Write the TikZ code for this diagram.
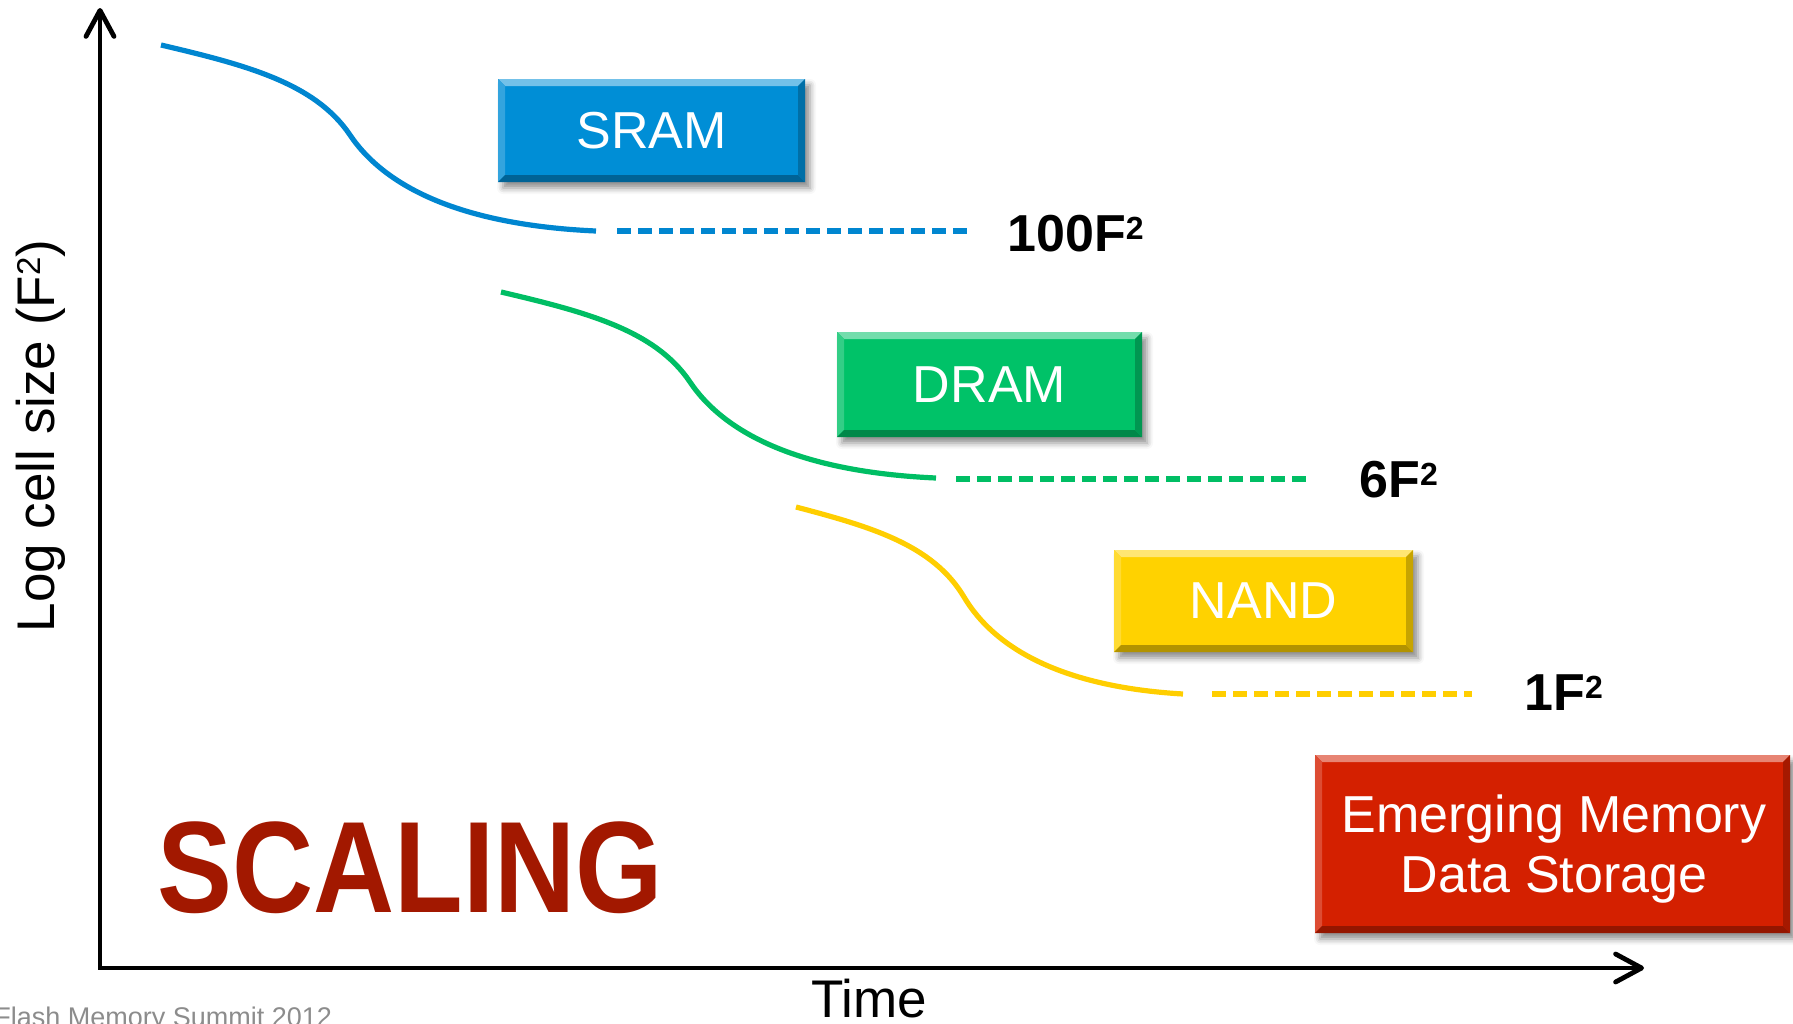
\documentclass[tikz,border=0pt]{standalone}
\usepackage{fontspec}
\setmainfont{Liberation Sans}
\newfontfamily\blockfont{Liberation Sans}[FakeStretch=0.864]
\usetikzlibrary{arrows.meta,shadows.blur}

\definecolor{cblue}{RGB}{0,134,208}
\definecolor{cgreen}{RGB}{0,190,100}
\definecolor{cyellow}{RGB}{255,206,0}
\definecolor{bblue}{RGB}{0,142,214}
\definecolor{bgreen}{RGB}{0,194,104}
\definecolor{byellow}{RGB}{255,210,0}
\definecolor{bred}{RGB}{212,32,0}
\definecolor{scalered}{RGB}{162,24,0}
\definecolor{footgray}{RGB}{140,140,140}

% superscript two for the bold size labels and the axis title
\newcommand\supbold{\raisebox{6pt}{\fontsize{16}{16}\selectfont\bfseries 2}}
\newcommand\supaxis{\raisebox{7pt}{\fontsize{16.5}{16.5}\selectfont 2}}

% bevelled edges drawn inside a box
\newcommand\bevelfill[1]{%
  \path (path picture bounding box.north west) coordinate (bNW)
        (path picture bounding box.north east) coordinate (bNE)
        (path picture bounding box.south east) coordinate (bSE)
        (path picture bounding box.south west) coordinate (bSW);
  \fill[#1!55!white] (bNW) -- (bNE) -- ([shift={(-3.5pt,-3.5pt)}]bNE) -- ([shift={(3.5pt,-3.5pt)}]bNW) -- cycle;
  \fill[#1!80!white] (bNW) -- ([shift={(3.5pt,-3.5pt)}]bNW) -- ([shift={(3.5pt,3.5pt)}]bSW) -- (bSW) -- cycle;
  \fill[#1!70!black] (bSW) -- ([shift={(3.5pt,3.5pt)}]bSW) -- ([shift={(-3.5pt,3.5pt)}]bSE) -- (bSE) -- cycle;
  \fill[#1!78!black] (bNE) -- (bSE) -- ([shift={(-3.5pt,3.5pt)}]bSE) -- ([shift={(-3.5pt,-3.5pt)}]bNE) -- cycle;
}

\tikzset{
  axis/.style={line width=2.4pt, line cap=round, line join=miter,
    {Straight Barb[length=13pt,width=14pt,line cap=round,line join=round]}-{Straight Barb[length=13pt,width=14pt,line cap=round,line join=round]}},
  curve/.style={draw=#1, line width=2.6pt},
  dashline/.style={draw=#1, line width=2.6pt, dash pattern=on 7pt off 3.5pt},
  membox/.style={fill=#1, inner sep=0pt, text=white, font=\fontsize{26}{30}\selectfont,
    align=center,
    blur shadow={shadow xshift=2.5pt, shadow yshift=-3pt, shadow blur radius=3pt, shadow opacity=45},
    path picture={\bevelfill{#1}}},
  boxtext/.style={inner sep=0pt, text=white, font=\fontsize{26}{30}\selectfont, align=center},
  sizelbl/.style={inner sep=0pt, font=\fontsize{26}{30}\selectfont\bfseries, anchor=west},
  plain/.style={inner sep=0pt, font=\fontsize{26.5}{30}\selectfont}
}

\begin{document}
\begin{tikzpicture}[x=0.5pt,y=-0.5pt]
\useasboundingbox (0,0) rectangle (1793,1023);

% axes
\coordinate (ytop) at (100,8);
\coordinate (origin) at (100,968);
\coordinate (xend) at (1644,968);
\draw[axis] (ytop) -- (origin) -- (xend);

% axis titles
\node[plain, rotate=90] (ytitle) at (40.5,436) {Log cell size (F\supaxis)};
\node[plain, anchor=base] (xtitle) at (869,1017) {Time};

% scaling curves
\coordinate (s0) at (161,45);
\coordinate (s1) at (596,231);
\draw[curve=cblue] (s0) .. controls (246,65) and (315,83) .. (350,135)
  .. controls (385,187) and (461,225) .. (s1);
\coordinate (d0) at (501,292);
\coordinate (d1) at (936,478);
\draw[curve=cgreen] (d0) .. controls (586,312) and (655,330) .. (690,382)
  .. controls (725,434) and (801,472) .. (d1);
\coordinate (n0) at (796,507);
\coordinate (n1) at (1183,694);
\draw[curve=cyellow] (n0) .. controls (872,527) and (933,545) .. (964,597)
  .. controls (995,649) and (1063,687) .. (n1);

% limits
\coordinate (sa) at (617,231);
\coordinate (sb) at (972,231);
\draw[dashline=cblue] (sa) -- (sb);
\coordinate (da) at (956,479);
\coordinate (db) at (1313,479);
\draw[dashline=cgreen] (da) -- (db);
\coordinate (na) at (1212,694);
\coordinate (nb) at (1472,694);
\draw[dashline=cyellow] (na) -- (nb);

\node[sizelbl] (l100) at (1007,233.5) {100F\supbold};
\node[sizelbl] (l6) at (1359,480) {6F\supbold};
\node[sizelbl] (l1) at (1524,693) {1F\supbold};

% technology boxes
\node[membox=bblue, minimum width=153.5pt, minimum height=51.5pt] (sram) at (651.5,130.5) {SRAM};
\node[membox=bgreen, minimum width=152.5pt, minimum height=52.5pt] (dram) at (989.5,384.5) {DRAM};
\node[membox=byellow, minimum width=149.5pt, minimum height=51pt] (nand) at (1263.5,601) {NAND};
\node[membox=bred, minimum width=237.5pt, minimum height=89pt] (emerg) at (1552.5,844) {};
\node[boxtext] (emergtext) at (1554,849) {Emerging Memory\\Data Storage};

% title
\node[inner sep=0pt, anchor=base west, text=scalered, font=\blockfont\bfseries\fontsize{65}{65}\selectfont] (scaling) at (157,912) {SCALING};

% footer
\node[inner sep=0pt, anchor=base west, text=footgray, font=\fontsize{13.5}{14}\selectfont] (footer) at (-6,1026) {Flash Memory Summit 2012};
\end{tikzpicture}
\end{document}
